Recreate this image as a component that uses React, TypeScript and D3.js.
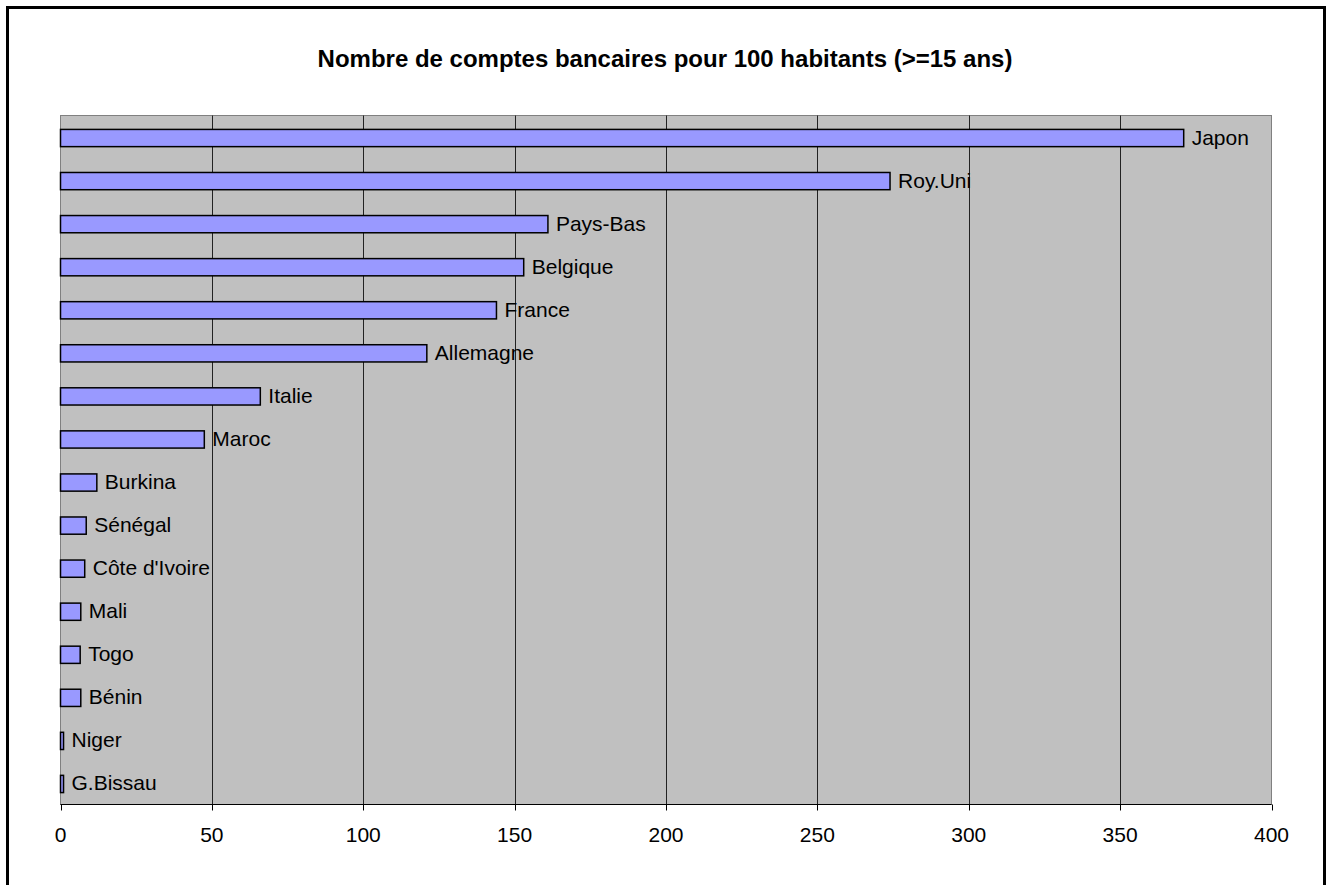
import React from "react";
import * as d3 from "d3";

const categories = [
  "Japon",
  "Roy.Uni",
  "Pays-Bas",
  "Belgique",
  "France",
  "Allemagne",
  "Italie",
  "Maroc",
  "Burkina",
  "Sénégal",
  "Côte d'Ivoire",
  "Mali",
  "Togo",
  "Bénin",
  "Niger",
  "G.Bissau",
];

const accounts = [371, 274, 161, 153, 144, 121, 66, 47.5, 12, 8.5, 8, 6.7, 6.5, 6.7, 1, 1];

const xTicks = [0, 50, 100, 150, 200, 250, 300, 350, 400];

const title = "Nombre de comptes bancaires pour 100 habitants (>=15 ans)";

const W = 1330;
const H = 885;
const plot = { left: 60.5, right: 1271.5, top: 115.5, bottom: 804.5 };
const FONT = "'Liberation Sans', Arial, Helvetica, sans-serif";

export default function App() {
  const x = d3.scaleLinear().domain([0, 400]).range([plot.left, plot.right]);
  const y = d3
    .scaleBand<string>()
    .domain(categories)
    .range([plot.top + 1, plot.bottom + 1])
    .paddingInner(0.6)
    .paddingOuter(0.3);

  return (
    <div style={{ position: "absolute", left: 0, top: 0 }}>
      <svg width={W} height={H} style={{ display: "block", background: "#fff" }}>
        {/* chart frame */}
        <rect x={7.5} y={7.5} width={1317} height={890} fill="#fff" stroke="#000" strokeWidth={3} />

        <text
          x={665}
          y={66.5}
          textAnchor="middle"
          fontFamily={FONT}
          fontWeight="bold"
          fontSize={24}
          fill="#000"
        >
          {title}
        </text>

        {/* plot area */}
        <rect
          x={plot.left}
          y={plot.top}
          width={plot.right - plot.left}
          height={plot.bottom - plot.top}
          fill="#c0c0c0"
          stroke="#808080"
          strokeWidth={1}
        />

        {/* vertical gridlines */}
        {xTicks.slice(1, -1).map((t) => (
          <line
            key={`g${t}`}
            x1={Math.round(x(t)) + 0.5}
            x2={Math.round(x(t)) + 0.5}
            y1={plot.top}
            y2={plot.bottom}
            stroke="#222"
            strokeWidth={1}
          />
        ))}

        {/* bars */}
        {categories.map((c, i) => (
          <rect
            key={c}
            x={x(0)}
            y={y(c)!}
            width={x(accounts[i]) - x(0)}
            height={y.bandwidth()}
            fill="#9999ff"
            stroke="#000"
            strokeWidth={1.5}
          />
        ))}

        {/* category labels at bar ends */}
        {categories.map((c, i) => (
          <text
            key={`l${c}`}
            x={x(accounts[i]) + 8}
            y={y(c)! + y.bandwidth() / 2 + 6.5}
            fontFamily={FONT}
            fontSize={21}
            fill="#000"
          >
            {c}
          </text>
        ))}

        {/* x axis */}
        <line x1={plot.left} x2={plot.right} y1={plot.bottom} y2={plot.bottom} stroke="#000" strokeWidth={1} />
        {xTicks.map((t) => (
          <g key={`t${t}`}>
            <line
              x1={Math.round(x(t)) + 0.5}
              x2={Math.round(x(t)) + 0.5}
              y1={plot.bottom}
              y2={plot.bottom + 6}
              stroke="#000"
              strokeWidth={1}
            />
            <text
              x={x(t)}
              y={842}
              textAnchor="middle"
              fontFamily={FONT}
              fontSize={21}
              fill="#000"
            >
              {t}
            </text>
          </g>
        ))}
      </svg>
    </div>
  );
}
